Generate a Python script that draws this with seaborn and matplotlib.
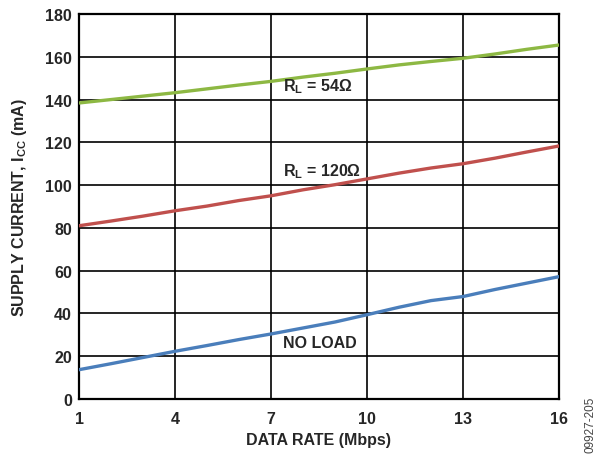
import numpy as np
import pandas as pd
import seaborn as sns
from matplotlib import pyplot as plt

data_rate = list(range(1, 17))
icc_54 = [138.4, 140.0, 141.6, 143.2, 145.0, 146.8, 148.5, 150.5, 152.3, 154.3, 156.2, 157.8, 159.3, 161.3, 163.5, 165.5]
icc_120 = [81.0, 83.2, 85.5, 88.0, 90.2, 92.8, 95.0, 97.8, 100.2, 102.9, 105.6, 108.0, 110.0, 112.6, 115.5, 118.3]
icc_noload = [13.7, 16.5, 19.4, 22.3, 25.0, 27.8, 30.4, 33.2, 36.0, 39.4, 42.9, 46.0, 47.9, 51.2, 54.2, 57.2]
series_names = ["54", "120", "noload"]
x_ticks = [1, 4, 7, 10, 13, 16]
y_ticks = list(range(0, 181, 20))

df = pd.DataFrame({
    "rate": data_rate * 3,
    "icc": icc_54 + icc_120 + icc_noload,
    "load": [s for s in series_names for _ in data_rate],
})

sns.set_style("white")
plt.rcParams["font.family"] = ["Liberation Sans", "DejaVu Sans"]
plt.rcParams["font.weight"] = "bold"
plt.rcParams["mathtext.default"] = "regular"

fig = plt.figure(figsize=(5.97, 4.56), dpi=100)
ax = fig.add_axes([79 / 597, 56 / 456, 480 / 597, 385 / 456])

palette = {"54": "#8db843", "120": "#c0504d", "noload": "#4a7ebb"}
sns.lineplot(df, x="rate", y="icc", hue="load", palette=palette, linewidth=2.4,
             legend=False, ax=ax, zorder=3)

ax.set_xlim(1, 16)
ax.set_ylim(0, 180)
ax.set_xticks(x_ticks)
ax.set_yticks(y_ticks)
ax.grid(True, color="black", linewidth=1.2)
for sp in ax.spines.values():
    sp.set_color("black")
    sp.set_linewidth(1.6)
ax.tick_params(axis="y", length=0, labelsize=11.5, pad=5)
ax.tick_params(axis="x", length=0, labelsize=11.5, pad=9)
for lbl in ax.get_xticklabels() + ax.get_yticklabels():
    lbl.set_fontweight("bold")

ax.set_xlabel("DATA RATE (Mbps)", fontsize=11.5, fontweight="bold", labelpad=4)
ax.set_ylabel("SUPPLY CURRENT, I$_{CC}$ (mA)", fontsize=11.5, fontweight="bold", labelpad=12)

ax.text(7.38, 146.3, "R$_L$ = 54Ω", fontsize=11.5, fontweight="bold", va="center", ha="left")
ax.text(7.38, 106.6, "R$_L$ = 120Ω", fontsize=11.5, fontweight="bold", va="center", ha="left")
ax.text(7.38, 26.2, "NO LOAD", fontsize=11.5, fontweight="bold", va="center", ha="left")

fig.text(590 / 597, 1 - 425 / 456, "09927-205", rotation=90, fontsize=8.5, fontweight="normal",
         color="#444444", ha="center", va="center")

plt.savefig("out.png", dpi=100)
